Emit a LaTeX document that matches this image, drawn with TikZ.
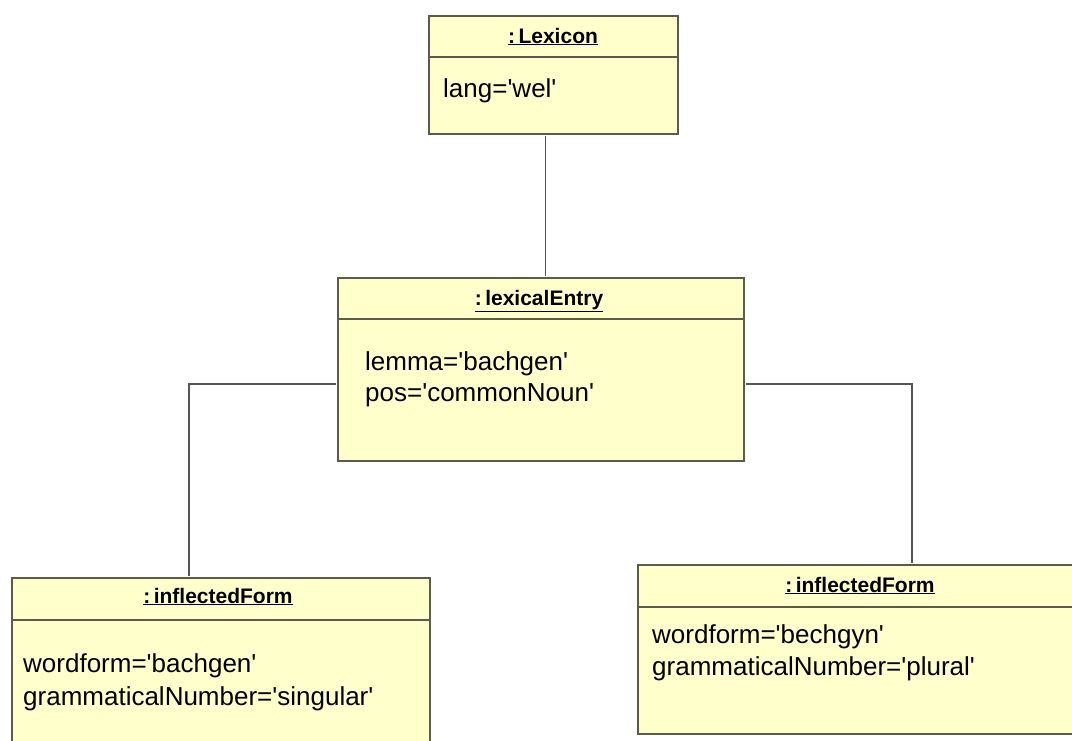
\documentclass[tikz,border=0pt]{standalone}
\usepackage{fontspec}
\setmainfont{Liberation Sans}
\usetikzlibrary{calc}
\definecolor{objfill}{HTML}{FFFFCC}
\definecolor{objline}{HTML}{5C5C4C}
\definecolor{linkline}{HTML}{555555}
\tikzset{
  objbox/.style={draw=objline, line width=2pt, fill=objfill, rectangle, inner sep=0pt},
  divider/.style={draw=objline, line width=2pt},
  objtitle/.style={anchor=base, inner sep=0pt, font=\fontsize{21}{24}\selectfont\bfseries},
  attr/.style={anchor=base west, inner sep=0pt, font=\fontsize{26}{31}\selectfont},
  link/.style={draw=linkline, line width=1.5pt}
}
\newcommand{\objname}[1]{\underline{#1}}
\newcommand{\sq}{\textquotesingle}
\begin{document}
\begin{tikzpicture}[x=1pt,y=-1pt]
\clip (0,0) rectangle (1072,740);
\fill[white] (0,0) rectangle (1072,740);

% object boxes
\node[objbox, minimum width=249pt, minimum height=118pt] (lex) at (553.5,75) {};
\node[objbox, minimum width=406pt, minimum height=183pt] (entry) at (541,369.5) {};
\node[objbox, minimum width=418pt, minimum height=182pt] (formA) at (221,669) {};
\node[objbox, minimum width=444pt, minimum height=169pt] (formB) at (860,649.5) {};

% compartment dividers
\draw[divider] (lex.west |- 0,57) -- (lex.east |- 0,57);
\draw[divider] (entry.west |- 0,319) -- (entry.east |- 0,319);
\draw[divider] (formA.west |- 0,620) -- (formA.east |- 0,620);
\draw[divider] (formB.west |- 0,607) -- (formB.east |- 0,607);

% titles
\node[objtitle] (lexT) at (553,43) {\objname{:\,Lexicon}};
\node[objtitle] (entryT) at (539,305) {\objname{:\,lexicalEntry}};
\node[objtitle] (formAT) at (218,603) {\objname{:\,inflectedForm}};
\node[objtitle] (formBT) at (860,592) {\objname{:\,inflectedForm}};

% attributes
\node[attr] (lexA1) at (443,97) {lang=\sq wel\sq};
\node[attr] (entryA1) at (365,370) {lemma=\sq bachgen\sq};
\node[attr] (entryA2) at (365,401) {pos=\sq commonNoun\sq};
\node[attr] (formAA1) at (23,672) {wordform=\sq bachgen\sq};
\node[attr] (formAA2) at (23,705) {grammaticalNumber=\sq singular\sq};
\node[attr] (formBA1) at (652,643) {wordform=\sq bechgyn\sq};
\node[attr] (formBA2) at (652,675) {grammaticalNumber=\sq plural\sq};

% links
\draw[link] ($(lex.south)+(-8,1)$) -- ($(entry.north)+(4.5,-1)$);
\draw[link] ($(entry.west)+(-1,14.5)$) -| ($(formA.north)+(-32,-1)$);
\draw[link] ($(entry.east)+(1,14.5)$) -| ($(formB.north)+(52,-1)$);
\end{tikzpicture}
\end{document}
